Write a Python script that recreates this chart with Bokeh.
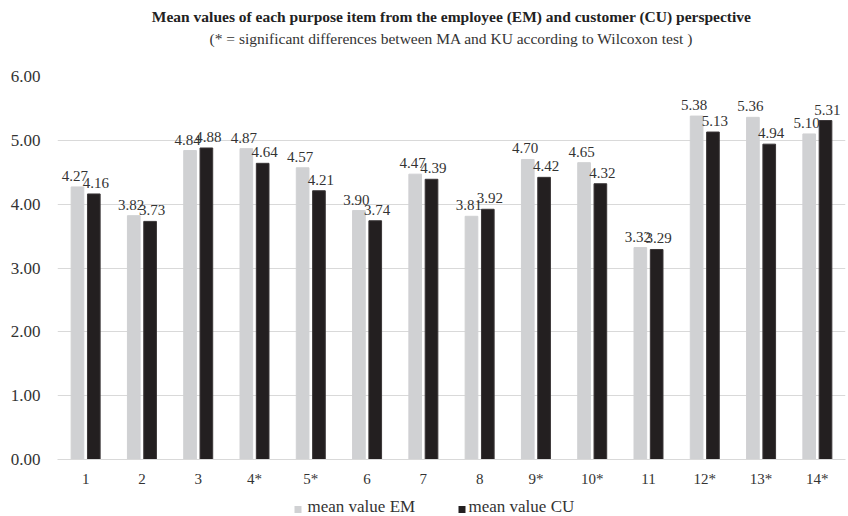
from bokeh.plotting import figure
from bokeh.layouts import column
from bokeh.core.properties import value
from bokeh.models import (ColumnDataSource, FactorRange, FixedTicker, NumeralTickFormatter,
                          LabelSet, Title, Range1d)
from bokeh.transform import dodge
from bokeh.embed import file_html
from bokeh.resources import INLINE

items = ["1", "2", "3", "4*", "5*", "6", "7", "8", "9*", "10*", "11", "12*", "13*", "14*"]
mean_em = [4.27, 3.82, 4.84, 4.87, 4.57, 3.90, 4.47, 3.81, 4.70, 4.65, 3.32, 5.38, 5.36, 5.10]
mean_cu = [4.16, 3.73, 4.88, 4.64, 4.21, 3.74, 4.39, 3.92, 4.42, 4.32, 3.29, 5.13, 4.94, 5.31]
y_ticks = [0, 1, 2, 3, 4, 5, 6]
series_names = ["mean value EM", "mean value CU"]

FONT = "Liberation Serif"
EM_COLOR = "#d0d1d3"
CU_COLOR = "#231f20"
TEXT_COLOR = "#333333"

source = ColumnDataSource(dict(
    item=items,
    em=mean_em,
    cu=mean_cu,
    em_txt=[f"{v:.2f}" for v in mean_em],
    cu_txt=[f"{v:.2f}" for v in mean_cu],
))

p = figure(width=848, height=489, x_range=FactorRange(*items), y_range=Range1d(0, 6),
           output_backend="svg", toolbar_location=None,
           min_border_left=57, min_border_right=3, min_border_bottom=10, min_border_top=0)

p.vbar(x=dodge("item", -0.145, range=p.x_range), top="em", width=0.225,
       source=source, fill_color=EM_COLOR, line_color=EM_COLOR)
p.vbar(x=dodge("item", 0.145, range=p.x_range), top="cu", width=0.225,
       source=source, fill_color=CU_COLOR, line_color="#3a3637")

label_style = dict(text_font=value(FONT), text_font_size="15px", text_color=TEXT_COLOR,
                   text_align="center", text_baseline="bottom", y_offset=6)
p.add_layout(LabelSet(x=dodge("item", -0.19, range=p.x_range), y="em", text="em_txt",
                      source=source, **label_style))
p.add_layout(LabelSet(x=dodge("item", 0.18, range=p.x_range), y="cu", text="cu_txt",
                      source=source, **label_style))

# axes
p.yaxis.ticker = FixedTicker(ticks=y_ticks)
p.yaxis.formatter = NumeralTickFormatter(format="0.00")
p.yaxis.axis_line_color = None
p.yaxis.major_tick_line_color = None
p.yaxis.minor_tick_line_color = None
p.yaxis.major_label_text_font = FONT
p.yaxis.major_label_text_font_size = "17px"
p.yaxis.major_label_text_color = TEXT_COLOR
p.yaxis.major_label_standoff = 11

p.xaxis.axis_line_color = "#d9d9d9"
p.xaxis.major_tick_line_color = None
p.xaxis.minor_tick_line_color = None
p.xaxis.major_label_text_font = FONT
p.xaxis.major_label_text_font_size = "15px"
p.xaxis.major_label_text_color = TEXT_COLOR
p.xaxis.major_label_standoff = 5

p.xgrid.grid_line_color = None
p.ygrid.grid_line_color = "#d9d9d9"
p.ygrid.ticker = FixedTicker(ticks=y_ticks)
p.outline_line_color = None
p.x_range.range_padding = 0
p.x_range.group_padding = 0

# titles: panels stack outward, so the spacer goes first, the main title last
p.title.text = ""
p.add_layout(Title(text=" ", text_font=FONT, text_font_size="15px", standoff=10), "above")
p.add_layout(Title(text="(* = significant differences between MA and KU according to Wilcoxon test )",
                   align="center", vertical_align="top", text_font=FONT, text_font_size="15.5px",
                   text_font_style="normal", text_color=TEXT_COLOR, standoff=0), "above")
p.add_layout(Title(text="Mean values of each purpose item from the employee (EM) and customer (CU) perspective",
                   align="center", text_font=FONT, text_font_size="15.5px",
                   text_font_style="bold", text_color="#222222", standoff=10), "above")

# legend strip underneath the chart; its frame lines up with the chart frame,
# so the x range runs in page pixels across that frame
lg = figure(width=848, height=27, x_range=Range1d(57, 845), y_range=Range1d(0, 27),
            output_backend="svg", toolbar_location=None,
            min_border_left=57, min_border_right=3, min_border_top=0, min_border_bottom=0)
lg.axis.visible = False
lg.grid.visible = False
lg.outline_line_color = None
key_x = [297.5, 461.5]
text_x = [307, 468]
lg.scatter(x=key_x, y=[7, 7], marker="square", size=7,
           fill_color=[EM_COLOR, CU_COLOR], line_color=None)
lg.text(x=text_x, y=[10.5, 10.5], text=series_names, text_font=value(FONT), text_font_size="17px",
        text_color=TEXT_COLOR, text_baseline="middle", text_align="left")

open("out.html", "w").write(file_html(column(p, lg, spacing=0), INLINE))
